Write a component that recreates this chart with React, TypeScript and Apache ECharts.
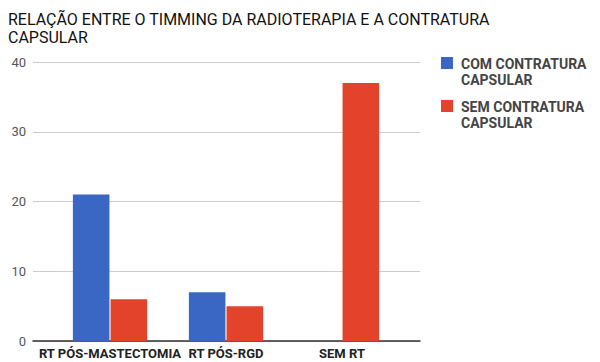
import React, { useEffect, useRef } from "react";
import * as echarts from "echarts";

const title = "RELAÇÃO ENTRE O TIMMING DA RADIOTERAPIA E A CONTRATURA\nCAPSULAR";
const categories = ["RT PÓS-MASTECTOMIA", "RT PÓS-RGD", "SEM RT"];
const seriesNames = ["COM CONTRATURA CAPSULAR", "SEM CONTRATURA CAPSULAR"];
const comContratura = [21, 7, 0];
const semContratura = [6, 5, 37];
const colors = ["#3a67c3", "#e2432a"];

export default function App() {
  const ref = useRef<HTMLDivElement>(null);
  useEffect(() => {
    if (!ref.current) return;
    const chart = echarts.init(ref.current, null, { renderer: "svg" });
    const font = "Roboto, 'Noto Sans', sans-serif";
    chart.setOption({
      animation: false,
      backgroundColor: "#ffffff",
      title: {
        text: title,
        left: 3,
        top: 5,
        textStyle: {
          fontFamily: "'Liberation Sans Narrow', 'Arial Narrow', Roboto, sans-serif",
          fontSize: 16,
          lineHeight: 18,
          fontWeight: "normal",
          color: "#111111",
        },
      },
      legend: {
        orient: "vertical",
        left: 436,
        top: 51,
        itemWidth: 12,
        itemHeight: 30,
        itemGap: 11,
        icon: "path://M0,0L12,0L12,12L0,12Z M0,30L0.01,30L0.01,30.01Z",
        formatter: (n: string) => n.replace(" CAPSULAR", "\nCAPSULAR"),
        textStyle: {
          fontFamily: font,
          fontSize: 14,
          lineHeight: 16,
          fontWeight: "bold",
          color: "#444444",
          padding: [0, 0, 0, 3],
        },
        data: seriesNames,
      },
      grid: [
        { left: 33, right: 180, top: 62, bottom: 21 },
        { left: 52, right: 200, top: 62, bottom: 21 },
      ],
      xAxis: [
        {
          gridIndex: 0,
          type: "value",
          min: 0,
          max: 1,
          axisLine: { show: true, onZero: false, lineStyle: { color: "#333333", width: 1.5 } },
          axisTick: { show: false },
          axisLabel: { show: false },
          splitLine: { show: false },
        },
        {
          gridIndex: 1,
          type: "category",
          data: categories,
          axisLine: { show: false },
          axisTick: { show: false },
          axisLabel: {
            margin: 6,
            fontFamily: font,
            fontSize: 13,
            fontWeight: "bold",
            color: "#222222",
            interval: 0,
          },
        },
      ],
      yAxis: [
        {
          gridIndex: 0,
          type: "value",
          min: 0,
          max: 40,
          interval: 10,
          axisLine: { show: false },
          axisTick: { show: false },
          axisLabel: { margin: 7, fontFamily: font, fontSize: 13, color: "#555555" },
          splitLine: { lineStyle: { color: "#cccccc", width: 1 } },
        },
        {
          gridIndex: 1,
          type: "value",
          min: 0,
          max: 40,
          interval: 10,
          show: false,
          splitLine: { show: false },
        },
      ],
      series: [
        {
          name: seriesNames[0],
          type: "bar",
          xAxisIndex: 1,
          yAxisIndex: 1,
          data: comContratura,
          itemStyle: { color: colors[0] },
          barGap: "3%",
          barCategoryGap: "36%",
        },
        {
          name: seriesNames[1],
          type: "bar",
          xAxisIndex: 1,
          yAxisIndex: 1,
          data: semContratura,
          itemStyle: { color: colors[1] },
          barGap: "3%",
          barCategoryGap: "36%",
        },
      ],
    });
    return () => chart.dispose();
  }, []);
  return <div ref={ref} style={{ width: 600, height: 362, position: "absolute", left: 0, top: 0 }} />;
}
